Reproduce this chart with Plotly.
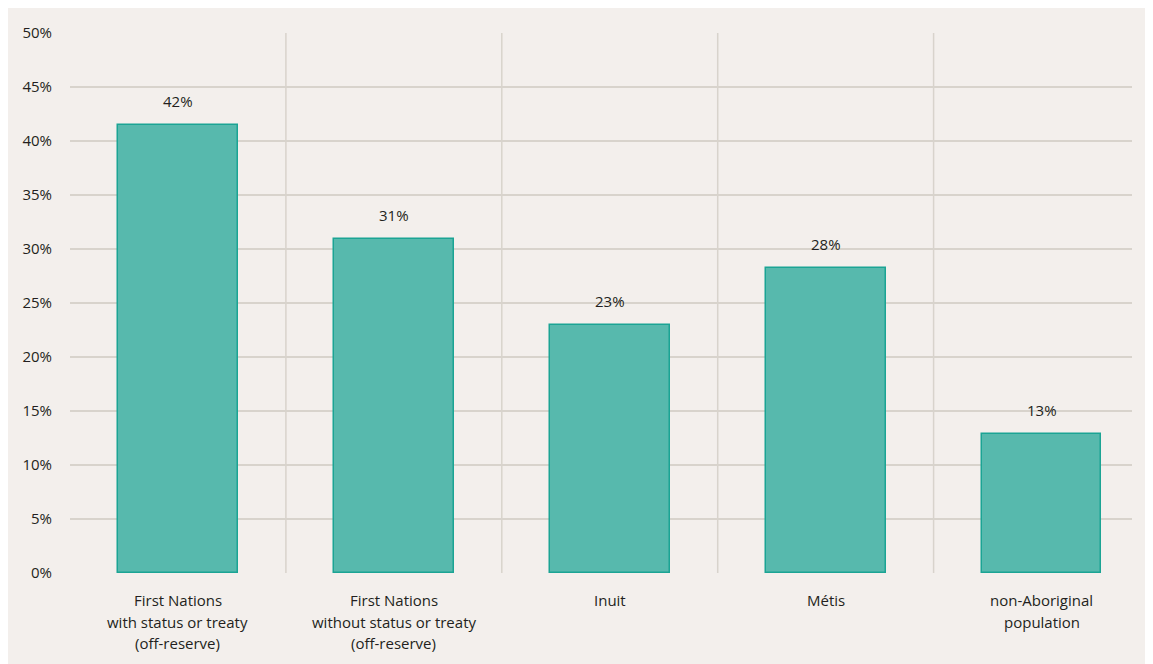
import plotly.graph_objects as go

categories = [
    "First Nations<br>with status or treaty<br>(off-reserve)",
    "First Nations<br>without status or treaty<br>(off-reserve)",
    "Inuit",
    "Métis",
    "non-Aboriginal<br>population",
]
values = [41.5, 30.9, 23.0, 28.2, 12.9]
value_labels = ["42%", "31%", "23%", "28%", "13%"]
y_ticks = [0, 5, 10, 15, 20, 25, 30, 35, 40, 45, 50]
y_tick_labels = [f"{t}%" for t in y_ticks]

# page has an 8px body margin
W, H = 1141, 656
L, T = 61.5, 25
pw, ph = 1062.5, 540
R, B = W - L - pw, H - T - ph

bg = "#f3efec"
grid = "#d8d3cc"
text_color = "#231f20"
font_family = "Open Sans, Noto Sans, sans-serif"

x_idx = list(range(len(categories)))

fig = go.Figure()
fig.add_trace(go.Bar(
    x=x_idx,
    y=values,
    width=0.555,
    marker=dict(color="#57b9ad", line=dict(color="#1ba494", width=1.5)),
    hoverinfo="skip",
))

# value labels above bars
for i, (v, lab) in enumerate(zip(values, value_labels)):
    fig.add_annotation(x=i, y=v, text=lab, showarrow=False, yshift=24,
                       font=dict(size=15, color=text_color, family=font_family))

# category labels, one annotation per line for exact line spacing
line_offsets = [27, 48.5, 70]
for i, cat in enumerate(categories):
    for j, line in enumerate(cat.split("<br>")):
        fig.add_annotation(x=i, xref="x", y=0, yref="paper", text=line,
                           showarrow=False, yanchor="middle",
                           yshift=-line_offsets[j],
                           font=dict(size=15, color=text_color, family=font_family))

shapes = []
# vertical separators between categories
for i in range(len(categories) - 1):
    shapes.append(dict(type="line", xref="x", yref="paper",
                       x0=i + 0.5, x1=i + 0.5, y0=0, y1=1,
                       line=dict(color=grid, width=1.5), layer="below"))

span = pw / 216.0
fig.update_layout(
    width=W, height=H,
    margin=dict(l=L, r=R, t=T, b=B, pad=0),
    paper_bgcolor=bg,
    plot_bgcolor="rgba(0,0,0,0)",
    showlegend=False,
    shapes=shapes,
    font=dict(family=font_family, color=text_color, size=15),
    xaxis=dict(
        range=[-0.5, -0.5 + span],
        tickmode="array", tickvals=x_idx, ticktext=[""] * len(x_idx),
        showgrid=False, zeroline=False, showline=False, ticks="",
        fixedrange=True,
    ),
    yaxis=dict(
        range=[0, 50],
        tickmode="array", tickvals=y_ticks, ticktext=y_tick_labels,
        showgrid=True, gridcolor=grid, gridwidth=1.5,
        zeroline=False, showline=False, ticks="",
        ticklabelstandoff=17,
        tickfont=dict(size=15, color=text_color),
        fixedrange=True,
    ),
    bargap=0,
)

fig.write_html("out.html")
